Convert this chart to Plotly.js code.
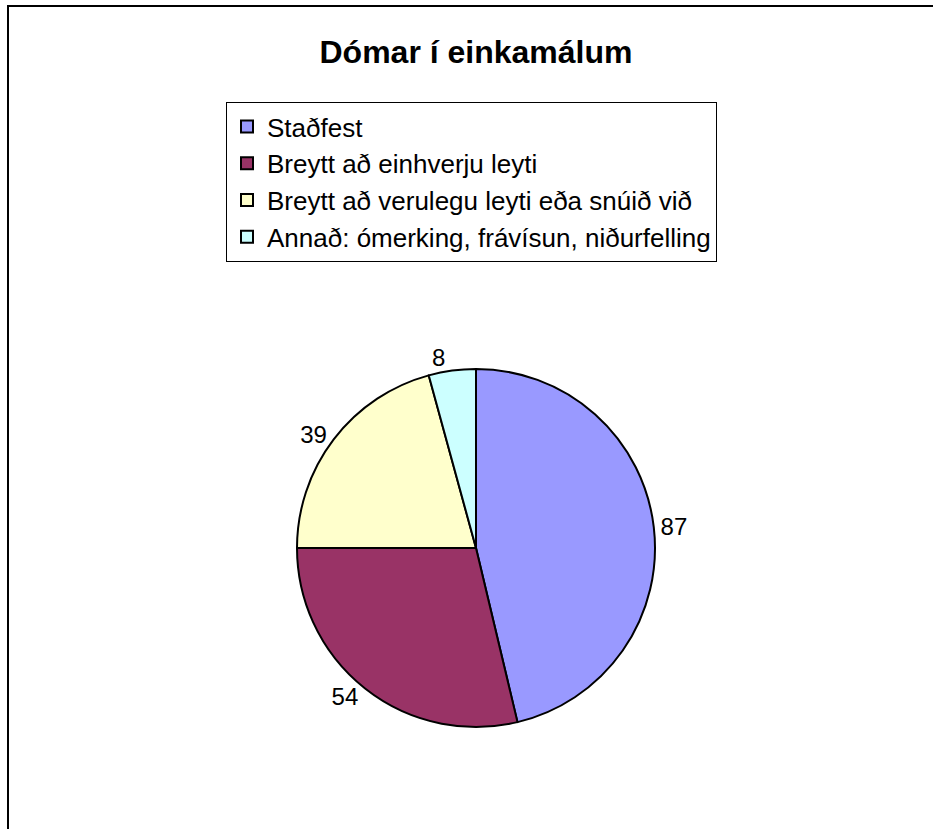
<!DOCTYPE html>
<html>
<head>
<meta charset="utf-8">
<script src="https://cdn.plot.ly/plotly-3.0.1.min.js"></script>
<style>html,body{margin:0;padding:0;background:#fff}#chart{width:933px;height:829px}</style>
</head>
<body>
<div id="chart"></div>
<script>
const categories = ["Staðfest", "Breytt að einhverju leyti", "Breytt að verulegu leyti eða snúið við", "Annað: ómerking, frávísun, niðurfelling"];
const values = [87, 54, 39, 8];
const colors = ["#9999FF", "#993366", "#FFFFCC", "#CCFFFF"];
const titleText = "Dómar í einkamálum";

const W = 933, H = 829;
const trace = {
  type: "pie",
  labels: categories,
  values: values,
  sort: false,
  direction: "clockwise",
  rotation: 0,
  marker: {colors: colors, line: {color: "#000", width: 2}},
  textinfo: "value",
  textposition: "outside",
  outsidetextfont: {family: "Liberation Sans, Arial, sans-serif", size: 24, color: "#000"},
  hoverinfo: "label+value",
  domain: {x: [297 / W, 655 / W], y: [1 - 727 / H, 1 - 369 / H]}
};
const layout = {
  width: W, height: H,
  margin: {l: 0, r: 0, t: 0, b: 0},
  paper_bgcolor: "#fff",
  font: {family: "Liberation Sans, Arial, sans-serif", color: "#000"},
  title: {text: "<b>" + titleText + "</b>", font: {size: 32, color: "#000"}, x: 476 / W, xanchor: "center", y: 1 - 52 / H, yanchor: "middle"},
  showlegend: true,
  legend: {x: 226 / W, xanchor: "left", y: 1 - 102 / H, yanchor: "top", bgcolor: "#fff", bordercolor: "#000", borderwidth: 1, font: {size: 26, color: "#000"}, traceorder: "normal", itemwidth: 30},
  shapes: [{type: "rect", xref: "paper", yref: "paper", x0: 8 / W, x1: 1.1, y0: -0.1, y1: 1 - 6 / H, line: {color: "#000", width: 2}, fillcolor: "rgba(0,0,0,0)"}]
};
Plotly.newPlot("chart", [trace], layout, {displayModeBar: false, staticPlot: true});
</script>
</body>
</html>
